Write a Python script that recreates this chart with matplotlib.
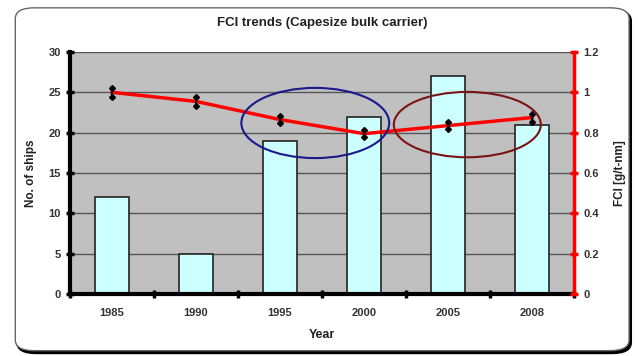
import numpy as np
import matplotlib.pyplot as plt
from matplotlib.patches import Ellipse, FancyBboxPatch

plt.rcParams['font.family'] = ['Liberation Sans', 'DejaVu Sans']

# data
years = ['1985', '1990', '1995', '2000', '2005', '2008']
ships = [12, 5, 19, 22, 27, 21]
fci = [1.0, 0.955, 0.865, 0.795, 0.835, 0.875]
fci_err = [0.022, 0.022, 0.018, 0.018, 0.018, 0.02]

fig = plt.figure(figsize=(6.38, 3.56), dpi=100)

# rounded chart frame, drawn behind the axes
frame = FancyBboxPatch((0.024, 0.015), 0.962, 0.963, boxstyle='round,pad=0,rounding_size=0.03',
                       transform=fig.transFigure, facecolor='white', edgecolor='#666666',
                       linewidth=1.0, zorder=-2)
shadow = FancyBboxPatch((0.027, 0.008), 0.962, 0.963, boxstyle='round,pad=0,rounding_size=0.03',
                        transform=fig.transFigure, facecolor='black', edgecolor='black',
                        linewidth=1.5, zorder=-3)
fig.patches.append(shadow)
fig.patches.append(frame)

ax = fig.add_axes([0.1097, 0.174, 0.79, 0.68])
ax.set_facecolor('#c0c0c0')
x = np.arange(len(years))

ax.bar(x, ships, width=0.4, color='#ccffff', edgecolor='#222222', linewidth=1.2, zorder=3)
ax.set_xlim(-0.5, len(years) - 0.5)
ax.set_ylim(0, 30)
ax.set_yticks(np.arange(0, 31, 5))
ax.yaxis.grid(True, color='#555555', linewidth=1.0, zorder=1)
ax.set_axisbelow(True)

ax.set_xticks(x)
ax.set_xticklabels(years)
ax.set_xticks(np.arange(-0.5, len(years), 1), minor=True)
ax.tick_params(axis='x', which='major', length=0, pad=10, labelsize=8, labelcolor='#333333')
ax.tick_params(axis='x', which='minor', direction='inout', length=6, width=2.5, color='black')
ax.tick_params(axis='y', direction='inout', length=6, width=2.5, color='black',
               labelsize=8, labelcolor='#333333')
for lab in ax.get_xticklabels() + ax.get_yticklabels():
    lab.set_fontweight('bold')

for s in ['top', 'right']:
    ax.spines[s].set_visible(False)
ax.spines['left'].set_linewidth(3)
ax.spines['bottom'].set_linewidth(3)
ax.spines['bottom'].set_zorder(5)

ax.set_xlabel('Year', fontsize=9, fontweight='bold', labelpad=8, color='#222222')
ax.set_ylabel('No. of ships', fontsize=8.5, fontweight='bold', labelpad=8, color='#222222')
ax.set_title('FCI trends (Capesize bulk carrier)', fontsize=9.5, fontweight='bold',
             color='#222222', pad=19)

ax2 = ax.twinx()
ax2.set_ylim(0, 1.2)
ax2.set_yticks(np.arange(0, 1.21, 0.2))
ax2.set_yticklabels(['0', '0.2', '0.4', '0.6', '0.8', '1', '1.2'])
ax2.plot(x, fci, color='#ff0000', linewidth=2.5, zorder=4)
ax2.errorbar(x, fci, yerr=fci_err, fmt='none', ecolor='black', elinewidth=1.5,
             capsize=0, zorder=5)
ax2.plot(x, np.array(fci) + np.array(fci_err), 'D', color='black', markersize=3, zorder=6)
ax2.plot(x, np.array(fci) - np.array(fci_err), 'D', color='black', markersize=3, zorder=6)
for s in ['top', 'left', 'bottom']:
    ax2.spines[s].set_visible(False)
ax2.spines['right'].set_color('#ff0000')
ax2.spines['right'].set_linewidth(2.5)
ax2.tick_params(axis='y', direction='inout', length=6, width=2.5, color='#ff0000',
                labelsize=8, labelcolor='#333333')
for lab in ax2.get_yticklabels():
    lab.set_fontweight('bold')
ax2.set_ylabel('FCI [g/t-nm]', fontsize=8.5, fontweight='bold', labelpad=11, color='#222222')

# highlight ellipses (in bar-axis coordinates)
ax2.add_patch(Ellipse((2.42, 21.2 / 25), 1.76, 8.7 / 25, fill=False, edgecolor='#1a1a8c',
                      linewidth=1.5, zorder=6))
ax2.add_patch(Ellipse((4.23, 21.0 / 25), 1.75, 8.1 / 25, fill=False, edgecolor='#7a1414',
                      linewidth=1.5, zorder=6))

fig.savefig('out.png', dpi=100)
